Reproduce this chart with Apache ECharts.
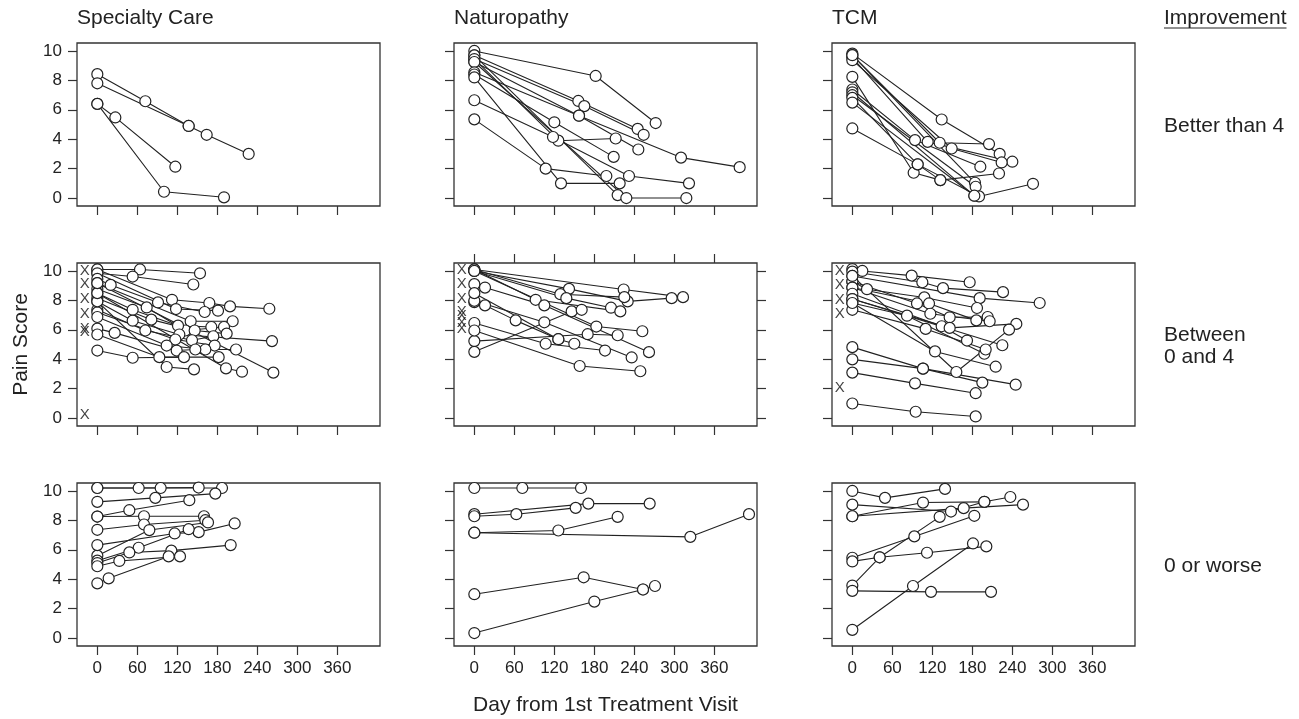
<!DOCTYPE html>
<html><head><meta charset="utf-8">
<script src="https://cdn.jsdelivr.net/npm/echarts@6/dist/echarts.min.js"></script>
<style>html,body{margin:0;padding:0;background:#fff}#chart{width:1299px;height:719px}</style>
</head><body><div id="chart"></div>
<script>
// ---------- categories / labels ----------
const groupNames = ['Specialty Care', 'Naturopathy', 'TCM'];
const improvementTitle = 'Improvement';
const improvementLabels = ['Better than 4', 'Between\n0 and 4', '0 or worse'];
const dayTicks = [0, 60, 120, 180, 240, 300, 360];
const scoreTicks = [0, 2, 4, 6, 8, 10];
const xAxisTitle = 'Day from 1st Treatment Visit';
const yAxisTitle = 'Pain Score';

// ---------- data: each patient = list of [day, pain score] ----------
const scBetter = [
  [[0,8.42],[72,6.58],[137,4.9]],
  [[0,7.8],[137,4.9],[164,4.3],[227,3.0]],
  [[0,6.4],[27,5.48],[117,2.13]],
  [[0,6.4],[100,0.43],[190,0.05]]
];
const natBetter = [
  [[0,10.0],[182,8.3],[272,5.1]],
  [[0,9.7],[156,6.6],[245,4.7]],
  [[0,9.45],[165,6.25],[254,4.3]],
  [[0,9.25],[157,5.6],[310,2.75],[398,2.1]],
  [[0,9.7],[215,0.2]],
  [[0,9.45],[126,3.9],[212,4.05]],
  [[0,9.25],[228,0],[318,0]],
  [[0,8.55],[157,5.6],[246,3.3]],
  [[0,8.4],[120,5.15],[209,2.8]],
  [[0,8.2],[130,1.0],[218,1.0]],
  [[0,6.65],[118,4.15],[232,1.5],[322,1.0]],
  [[0,5.35],[107,2.0],[198,1.5]]
];
const tcmBetter = [
  [[0,9.82],[134,5.34],[221,3.0]],
  [[0,9.71],[131,3.76],[205,3.67]],
  [[0,9.55],[113,3.82],[240,2.47]],
  [[0,9.37],[149,3.37],[224,2.42]],
  [[0,9.71],[184,1.04]],
  [[0,8.24],[92,1.72],[132,1.22]],
  [[0,7.38],[94,3.94],[192,2.13]],
  [[0,7.19],[183,0.16]],
  [[0,6.99],[185,0.77]],
  [[0,6.81],[98,2.29],[190,0.11],[271,0.97]],
  [[0,6.49],[183,0.16]],
  [[0,4.73],[98,2.29],[132,1.22],[220,1.67]]
];
const scBetween = [
  [[0,10.1],[64,10.1],[154,9.84]],
  [[0,9.84],[53,9.62],[144,9.08]],
  [[0,10.1],[112,8.04],[168,7.82],[199,7.59],[258,7.43]],
  [[0,9.84],[118,7.41],[181,7.30]],
  [[0,9.46],[20,9.05],[91,7.86],[161,7.21]],
  [[0,9.17],[140,6.58],[203,6.58]],
  [[0,8.78],[74,7.52],[132,5.95],[190,6.19]],
  [[0,8.49],[53,7.36],[121,6.28],[171,6.19]],
  [[0,8.15],[81,6.69],[146,5.95],[194,5.74]],
  [[0,7.93],[53,6.62],[123,5.68],[262,5.23]],
  [[0,7.36],[72,5.95],[142,5.29],[174,5.56]],
  [[0,7.18],[117,5.34],[176,4.93]],
  [[0,6.87],[104,4.93],[162,4.66],[208,4.66]],
  [[0,6.08],[26,5.79],[119,4.59],[147,4.66]],
  [[0,5.68],[93,4.14],[182,4.14]],
  [[0,4.59],[53,4.10],[130,4.14]],
  [[0,7.93],[104,3.47],[145,3.31]],
  [[0,8.49],[193,3.38],[217,3.15]],
  [[0,9.17],[264,3.09]]
];
const natBetween = [
  [[0,10.1],[224,8.74],[313,8.22]],
  [[0,10.0],[142,8.78],[230,7.93],[296,8.15]],
  [[0,10.1],[129,8.42],[225,8.22]],
  [[0,10.0],[138,8.15],[205,7.50]],
  [[0,10.1],[92,8.04],[219,7.25]],
  [[0,10.0],[183,6.22],[252,5.90]],
  [[0,9.1],[16,8.87],[105,7.66],[262,4.48]],
  [[0,7.88],[16,7.66],[62,6.64],[126,5.36],[150,5.05]],
  [[0,7.97],[105,6.51],[236,4.12]],
  [[0,5.23],[170,5.70],[215,5.63]],
  [[0,4.5],[146,7.25],[161,7.36]],
  [[0,6.46],[107,5.05],[196,4.59]],
  [[0,5.95],[158,3.54],[249,3.18]],
  [[0,8.49],[126,5.36]]
];
const tcmBetween = [
  [[0,10.13],[15,10.0],[89,9.68],[176,9.23]],
  [[0,9.95],[105,9.23],[136,8.83],[226,8.56]],
  [[0,9.66],[191,8.15],[281,7.82]],
  [[0,9.28],[22,8.76],[108,8.20],[187,7.48]],
  [[0,9.28],[97,7.79],[146,6.85],[203,6.87]],
  [[0,8.87],[115,7.79],[186,6.64]],
  [[0,8.87],[117,7.09],[206,6.58]],
  [[0,8.45],[134,6.24],[172,5.27]],
  [[0,8.09],[146,6.13],[246,6.40]],
  [[0,9.66],[156,3.13],[235,6.01]],
  [[0,7.82],[82,6.96],[198,4.37]],
  [[0,7.36],[110,6.06],[200,4.66]],
  [[0,8.09],[225,4.95]],
  [[0,7.82],[124,4.53],[215,3.49]],
  [[0,4.82],[106,3.36],[245,2.27]],
  [[0,3.99],[106,3.36],[195,2.41]],
  [[0,3.09],[94,2.36],[185,1.69]],
  [[0,0.99],[95,0.43],[185,0.11]]
];
const scWorse = [
  [[0,10.2],[62,10.2],[152,10.23]],
  [[0,10.2],[95,10.2],[187,10.2]],
  [[0,9.26],[87,9.53],[177,9.82]],
  [[0,8.26],[48,8.69],[138,9.37]],
  [[0,8.26],[70,8.28],[160,8.28]],
  [[0,7.36],[70,7.72],[162,8.01]],
  [[0,5.6],[78,7.34],[166,7.86]],
  [[0,6.32],[116,7.11],[152,7.20],[206,7.79]],
  [[0,5.26],[62,6.14],[137,7.40]],
  [[0,5.1],[48,5.82],[111,5.94],[200,6.32]],
  [[0,4.88],[33,5.24],[124,5.55]],
  [[0,3.72],[17,4.06],[107,5.55]]
];
const natWorse = [
  [[0,10.2],[72,10.2],[160,10.2]],
  [[0,8.42],[171,9.14],[263,9.14]],
  [[0,8.28],[63,8.42],[152,8.85]],
  [[0,7.16],[126,7.31],[215,8.24]],
  [[0,7.16],[324,6.88],[412,8.42]],
  [[0,2.98],[164,4.13],[253,3.30]],
  [[0,0.34],[180,2.48],[253,3.30],[271,3.54]]
];
const tcmWorse = [
  [[0,10.0],[49,9.53],[139,10.14]],
  [[0,9.07],[148,8.60],[198,9.26],[237,9.59]],
  [[0,8.28],[106,9.21],[198,9.26]],
  [[0,8.28],[167,8.83],[256,9.07]],
  [[0,5.46],[93,6.91],[183,8.31]],
  [[0,3.57],[41,5.49],[131,8.24]],
  [[0,5.21],[41,5.49],[112,5.80],[201,6.23]],
  [[0,3.21],[118,3.14],[208,3.14]],
  [[0,0.56],[91,3.54],[181,6.43]]
];
// baseline-only patients (drawn as "X" at the left of day 0): pain scores
const scBetweenX = [10.0, 9.15, 8.1, 7.1, 6.05, 5.85, 0.2];
const natBetweenX = [10.05, 9.1, 8.1, 7.2, 6.95, 6.5, 6.05];
const tcmBetweenX = [10.0, 9.05, 8.05, 7.05, 2.05];

// ---------- layout / style ----------
const FONT = '"Liberation Sans", Arial, Helvetica, sans-serif';
const INK = '#222';
const COL_LEFT = [77, 454, 832];
const ROW_TOP = [43, 263, 483];
const PW = 303, PH = 163;
const X_MIN = -30.5, X_MAX = 424, Y_MIN = -0.54, Y_MAX = 10.54;
const X_MARK_DAY = -19;

const panelData = [[scBetter, natBetter, tcmBetter], [scBetween, natBetween, tcmBetween], [scWorse, natWorse, tcmWorse]];
const panelX = [[null, null, null], [scBetweenX, natBetweenX, tcmBetweenX], [null, null, null]];

const grids = [], xAxes = [], yAxes = [], series = [];
const tickStyle = { color: '#333', width: 1.2 };
const hiddenLine = { show: false, onZero: false };

for (let r = 0; r < 3; r++) {
  for (let c = 0; c < 3; c++) {
    const gi = grids.length;
    grids.push({ left: COL_LEFT[c], top: ROW_TOP[r], width: PW, height: PH, show: true,
      borderColor: '#333', borderWidth: 1.3, backgroundColor: 'rgba(0,0,0,0)' });
    const xi = xAxes.length, yi = yAxes.length;
    const xa = { type: 'value', gridIndex: gi, min: X_MIN, max: X_MAX, position: 'bottom',
      axisLine: hiddenLine, splitLine: { show: false },
      axisTick: { show: true, length: 9, customValues: dayTicks, lineStyle: tickStyle },
      axisLabel: { show: r === 2, customValues: dayTicks, fontSize: 17, margin: 14, color: INK, fontFamily: FONT } };
    if (r === 2 && c === 1) {
      xa.name = xAxisTitle; xa.nameLocation = 'middle'; xa.nameGap = 49;
      xa.nameTextStyle = { fontSize: 21, color: INK, fontFamily: FONT };
    }
    xAxes.push(xa);
    const ya = { type: 'value', gridIndex: gi, min: Y_MIN, max: Y_MAX, position: 'left',
      axisLine: hiddenLine, splitLine: { show: false },
      axisTick: { show: true, length: 9, customValues: scoreTicks, lineStyle: tickStyle },
      axisLabel: { show: c === 0, customValues: scoreTicks, fontSize: 17, margin: 15, color: INK, fontFamily: FONT } };
    if (r === 1 && c === 0) {
      ya.name = yAxisTitle; ya.nameLocation = 'middle'; ya.nameGap = 45;
      ya.nameTextStyle = { fontSize: 21, color: INK, fontFamily: FONT };
    }
    yAxes.push(ya);
    if (r === 1 && c === 1) {
      xAxes.push({ type: 'value', gridIndex: gi, min: X_MIN, max: X_MAX, position: 'top',
        axisLine: hiddenLine, splitLine: { show: false },
        axisTick: { show: true, length: 9, customValues: dayTicks, lineStyle: tickStyle },
        axisLabel: { show: false, customValues: dayTicks } });
      yAxes.push({ type: 'value', gridIndex: gi, min: Y_MIN, max: Y_MAX, position: 'right',
        axisLine: hiddenLine, splitLine: { show: false },
        axisTick: { show: true, length: 9, customValues: scoreTicks, lineStyle: tickStyle },
        axisLabel: { show: false, customValues: scoreTicks } });
    }
    panelData[r][c].forEach(pts => {
      series.push({ type: 'line', xAxisIndex: xi, yAxisIndex: yi, data: pts,
        symbol: 'circle', symbolSize: 11, showAllSymbol: true, silent: true, animation: false,
        itemStyle: { color: '#fff', borderColor: INK, borderWidth: 1.2 },
        lineStyle: { color: INK, width: 1.1 }, emphasis: { disabled: true } });
    });
    const xm = panelX[r][c];
    if (xm) {
      series.push({ type: 'scatter', xAxisIndex: xi, yAxisIndex: yi,
        data: xm.map(v => [X_MARK_DAY, v]), symbol: 'circle', symbolSize: 1,
        itemStyle: { color: 'rgba(0,0,0,0)' }, silent: true, animation: false,
        label: { show: true, position: 'inside', formatter: 'X', fontSize: 15, color: '#111', fontFamily: FONT } });
    }
  }
}

const titleStyle = { fontSize: 21, fontWeight: 'normal', color: INK, fontFamily: FONT, lineHeight: 22 };
const titles = groupNames.map((t, c) => ({ text: t, left: COL_LEFT[c], top: 7, padding: 0, textStyle: titleStyle }));
const RIGHT_X = 1164;
titles.push({ text: improvementTitle, left: RIGHT_X, top: 7, padding: 0, textStyle: titleStyle });
improvementLabels.forEach((t, r) => {
  const n = t.split('\n').length;
  const cy = ROW_TOP[r] + PH / 2 + 2;
  titles.push({ text: t, left: RIGHT_X, top: cy - 11 * n, padding: 0, textStyle: titleStyle });
});

const chart = echarts.init(document.getElementById('chart'), null, { renderer: 'canvas' });
chart.setOption({
  backgroundColor: '#fff',
  animation: false,
  title: titles,
  grid: grids,
  xAxis: xAxes,
  yAxis: yAxes,
  series: series,
  graphic: [{ type: 'line', shape: { x1: RIGHT_X, y1: 28, x2: RIGHT_X + 122.5, y2: 28 },
    style: { stroke: INK, lineWidth: 1 }, silent: true }]
});
</script></body></html>
